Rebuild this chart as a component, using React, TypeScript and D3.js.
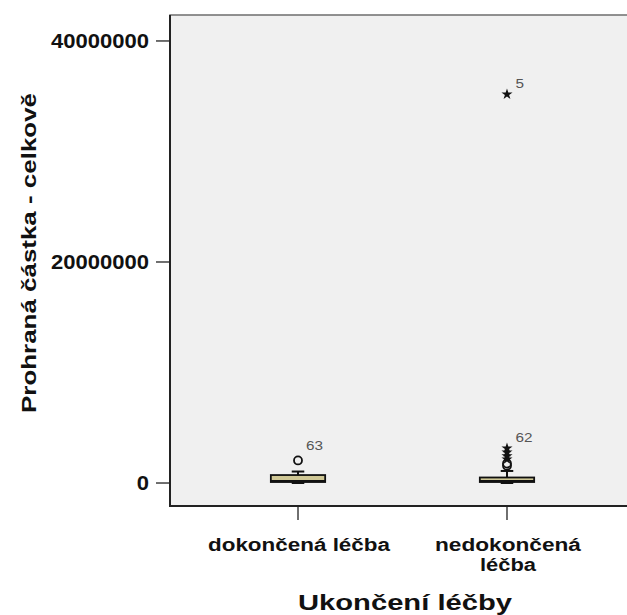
import React, { useRef, useEffect } from 'react';
import * as d3 from 'd3';

// data
const categories = ['dokončená léčba', 'nedokončená léčba'];
const categoryLines = [['dokončená léčba'], ['nedokončená', 'léčba']];
const whiskerLow = [0, 0];
const q1 = [90000, 90000];
const median = [180000, 180000];
const q3 = [720000, 500000];
const whiskerHigh = [1040000, 1090000];

// outliers: circle = mild, star = extreme
const outlierGroup = [0, 1, 1, 1, 1, 1, 1, 1];
const outlierValue = [2040000, 1560000, 1760000, 2140000, 2440000, 2780000, 3140000, 35180000];
const outlierKind = ['circle', 'circle', 'circle', 'star', 'star', 'star', 'star', 'star'];
const outlierLabel = ['63', '', '', '', '', '', '62', '5'];

const yTicks = [0, 20000000, 40000000];
const yTitle = 'Prohraná částka - celkově';
const xTitle = 'Ukončení léčby';

const W = 627;
const H = 615;
const FONT = '"Liberation Sans", Arial, sans-serif';

export default function App() {
  const svgRef = useRef<SVGSVGElement>(null);

  useEffect(() => {
    const svg = d3.select(svgRef.current);
    svg.selectAll('*').remove();

    const left = 170, right = 635, top = 15, bottom = 506;

    const x = d3.scalePoint<string>().domain(categories).range([left, right]).padding(0.6125);
    const y = d3.scaleLinear().domain([-2080000, 42350000]).range([bottom, top]);
    const boxW = x.step() * 0.26;
    const capW = x.step() * 0.06;

    // plot area
    svg.append('rect')
      .attr('x', left).attr('y', top)
      .attr('width', right - left + 10).attr('height', bottom - top)
      .attr('fill', '#f0f0f0')
      .attr('stroke', '#6e6e6e')
      .attr('stroke-width', 1.5);

    svg.append('line')
      .attr('x1', left).attr('x2', left).attr('y1', top).attr('y2', bottom + 1)
      .attr('stroke', '#222').attr('stroke-width', 2);
    svg.append('line')
      .attr('x1', left - 1).attr('x2', W).attr('y1', bottom).attr('y2', bottom)
      .attr('stroke', '#222').attr('stroke-width', 2);

    // y axis
    const yAxis = svg.append('g');
    yAxis.selectAll('line')
      .data(yTicks)
      .join('line')
      .attr('x1', left - 14).attr('x2', left)
      .attr('y1', (d) => y(d)).attr('y2', (d) => y(d))
      .attr('stroke', '#222').attr('stroke-width', 1.3);
    yAxis.selectAll('text')
      .data(yTicks)
      .join('text')
      .attr('x', 149)
      .attr('y', (d) => y(d) + 7)
      .attr('text-anchor', 'end')
      .attr('font-family', FONT)
      .attr('font-weight', 'bold')
      .attr('font-size', 19.5)
      .attr('fill', '#111')
      .attr('textLength', (d) => String(d).length * 12.25)
      .attr('lengthAdjust', 'spacingAndGlyphs')
      .text((d) => String(d));

    // x axis
    const xAxis = svg.append('g');
    xAxis.selectAll('line')
      .data(categories)
      .join('line')
      .attr('x1', (d) => x(d)!).attr('x2', (d) => x(d)!)
      .attr('y1', bottom + 1).attr('y2', bottom + 14)
      .attr('stroke', '#222').attr('stroke-width', 1.3);
    const lineWidths: Record<string, number> = { 'dokončená léčba': 182, 'nedokončená': 146, 'léčba': 56 };
    categories.forEach((c, i) => {
      categoryLines[i].forEach((t, j) => {
        xAxis.append('text')
          .attr('x', x(c)! + 1)
          .attr('y', 551 + j * 19.5)
          .attr('text-anchor', 'middle')
          .attr('font-family', FONT)
          .attr('font-weight', 'bold')
          .attr('font-size', 17.5)
          .attr('fill', '#111')
          .attr('textLength', lineWidths[t])
          .attr('lengthAdjust', 'spacingAndGlyphs')
          .text(t);
      });
    });

    // titles
    svg.append('text')
      .attr('x', 405).attr('y', 610)
      .attr('text-anchor', 'middle')
      .attr('font-family', FONT)
      .attr('font-weight', 'bold')
      .attr('font-size', 21.5)
      .attr('fill', '#111')
      .attr('textLength', 214)
      .attr('lengthAdjust', 'spacingAndGlyphs')
      .text(xTitle);
    svg.append('text')
      .attr('transform', 'translate(36,253) rotate(-90)')
      .attr('text-anchor', 'middle')
      .attr('font-family', FONT)
      .attr('font-weight', 'bold')
      .attr('font-size', 20.5)
      .attr('fill', '#111')
      .attr('textLength', 320)
      .attr('lengthAdjust', 'spacingAndGlyphs')
      .text(yTitle);

    // boxes
    const boxes = svg.append('g');
    categories.forEach((c, i) => {
      const cx = x(c)!;
      const g = boxes.append('g');
      g.append('line')
        .attr('x1', cx).attr('x2', cx)
        .attr('y1', y(whiskerHigh[i])).attr('y2', y(q3[i]))
        .attr('stroke', '#111').attr('stroke-width', 2);
      g.append('line')
        .attr('x1', cx).attr('x2', cx)
        .attr('y1', y(q1[i])).attr('y2', y(whiskerLow[i]))
        .attr('stroke', '#111').attr('stroke-width', 2);
      [whiskerHigh[i], whiskerLow[i]].forEach((v) => {
        g.append('line')
          .attr('x1', cx - capW / 2).attr('x2', cx + capW / 2)
          .attr('y1', y(v)).attr('y2', y(v))
          .attr('stroke', '#111').attr('stroke-width', 2);
      });
      g.append('rect')
        .attr('x', cx - boxW / 2).attr('y', y(q3[i]))
        .attr('width', boxW).attr('height', y(q1[i]) - y(q3[i]))
        .attr('fill', '#cfc795')
        .attr('stroke', '#111').attr('stroke-width', 1.8);
      g.append('line')
        .attr('x1', cx - boxW / 2).attr('x2', cx + boxW / 2)
        .attr('y1', y(median[i])).attr('y2', y(median[i]))
        .attr('stroke', '#111').attr('stroke-width', 2);
    });

    // outliers
    const pts = outlierValue.map((v, k) => ({
      x: x(categories[outlierGroup[k]])!,
      y: y(v),
      kind: outlierKind[k],
      label: outlierLabel[k],
    }));
    const star = d3.symbol().type(d3.symbolStar).size(38);
    const marks = svg.append('g');
    marks.selectAll('circle')
      .data(pts.filter((p) => p.kind === 'circle'))
      .join('circle')
      .attr('cx', (p) => p.x).attr('cy', (p) => p.y)
      .attr('r', 4)
      .attr('fill', '#f0f0f0')
      .attr('stroke', '#111').attr('stroke-width', 1.8);
    marks.selectAll('path')
      .data(pts.filter((p) => p.kind === 'star'))
      .join('path')
      .attr('transform', (p) => `translate(${p.x},${p.y})`)
      .attr('d', star)
      .attr('fill', '#111');
    marks.selectAll('text')
      .data(pts.filter((p) => p.label))
      .join('text')
      .attr('x', (p) => p.x + (p.kind === 'circle' ? 8 : 8.5))
      .attr('y', (p) => p.y - (p.kind === 'circle' ? 10.5 : 6.5))
      .attr('font-family', FONT)
      .attr('font-size', 12.5)
      .attr('fill', '#555')
      .attr('textLength', (p) => p.label.length * 8.5)
      .attr('lengthAdjust', 'spacingAndGlyphs')
      .text((p) => p.label);
  }, []);

  return (
    <svg
      ref={svgRef}
      width={W}
      height={H}
      style={{ position: 'absolute', left: 0, top: 0, background: '#fff', display: 'block' }}
    ></svg>
  );
}
